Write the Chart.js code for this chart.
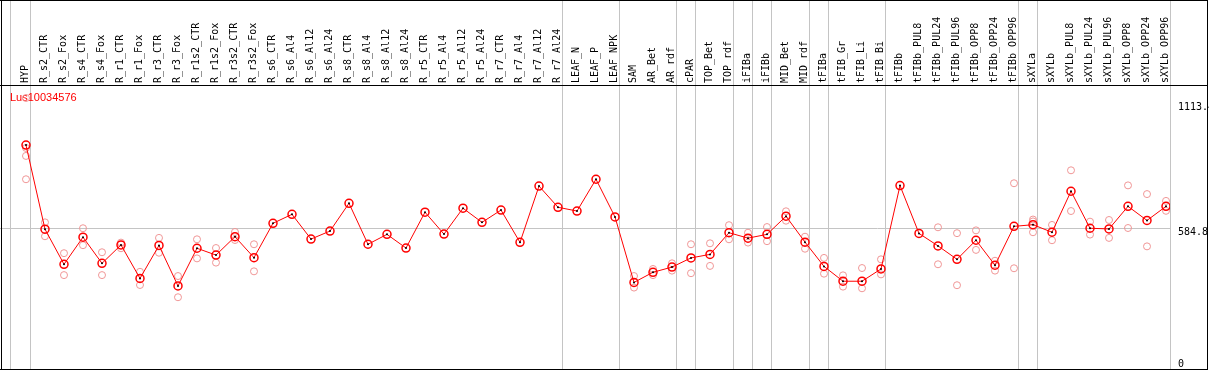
<!DOCTYPE html>
<html>
<head>
<meta charset="utf-8">
<script src="https://cdn.jsdelivr.net/npm/chart.js@4.4.0/dist/chart.umd.min.js"></script>
<style>
  html, body { margin: 0; padding: 0; background: #fff; }
  #wrap { width: 1209px; height: 370px; }
</style>
</head>
<body>
<div id="wrap"><canvas id="exprChart" width="1209" height="370"></canvas></div>
<script>
var geneName = "Lus10034576";

var categories = ["HYP", "R_s2_CTR", "R_s2_Fox", "R_s4_CTR", "R_s4_Fox", "R_r1_CTR", "R_r1_Fox",
  "R_r3_CTR", "R_r3_Fox", "R_r1s2_CTR", "R_r1s2_Fox", "R_r3s2_CTR", "R_r3s2_Fox",
  "R_s6_CTR", "R_s6_Al4", "R_s6_Al12", "R_s6_Al24", "R_s8_CTR", "R_s8_Al4", "R_s8_Al12", "R_s8_Al24",
  "R_r5_CTR", "R_r5_Al4", "R_r5_Al12", "R_r5_Al24", "R_r7_CTR", "R_r7_Al4", "R_r7_Al12", "R_r7_Al24",
  "LEAF_N", "LEAF_P", "LEAF_NPK", "SAM", "AR_Bet", "AR_rdf", "cPAR", "TOP_Bet", "TOP_rdf",
  "iFIBa", "iFIBb", "MID_Bet", "MID_rdf", "tFIBa", "tFIB_Gr", "tFIB_Li", "tFIB_Bi",
  "tFIBb", "tFIBb_PUL8", "tFIBb_PUL24", "tFIBb_PUL96", "tFIBb_OPP8", "tFIBb_OPP24", "tFIBb_OPP96",
  "sXYLa", "sXYLb", "sXYLb_PUL8", "sXYLb_PUL24", "sXYLb_PUL96", "sXYLb_OPP8", "sXYLb_OPP24", "sXYLb_OPP96"];

// number of categories in each sample group (grey separators)
var groupSizes = [1, 28, 3, 3, 1, 2, 1, 1, 2, 1, 3, 7, 1, 7];

var meanValues = [938, 581, 432, 547, 436, 514, 372, 512, 340, 500, 471, 549, 460,
  606, 644, 539, 573, 691, 517, 559, 501, 653, 560, 670, 610, 662, 525, 764, 674,
  658, 793, 633, 355, 398, 420, 459, 474, 566, 543, 559, 636, 526, 423, 360, 360, 412,
  766, 563, 510, 453, 534, 428, 593, 600, 568, 742, 585, 582, 678, 618, 678];

var replicateValues = [[1138, 926, 892, 793], [610, 551], [479, 386], [585, 513], [483, 386],
  [524, 500], [400, 344], [544, 481], [382, 292], [538, 457], [501, 439], [569, 535], [517, 402],
  [], [], [], [], [], [], [], [], [], [], [], [], [], [], [], [], [], [], [],
  [382, 333], [412, 386], [436, 405], [517, 394], [521, 425], [598, 538], [566, 524], [590, 530],
  [657, 617], [549, 498], [459, 392], [385, 337], [416, 330], [453, 389],
  [], [], [589, 432], [564, 343], [576, 493], [447, 405], [776, 415],
  [622, 614, 568], [599, 534], [831, 658], [613, 558], [620, 544], [767, 586], [730, 508], [701, 659]];

var yTickValues = [0, 584.8, 1113.4];
var yMax = 1189;

var meanPoints = meanValues.map(function (v, i) { return { x: i, y: v }; });
var repPoints = [];
replicateValues.forEach(function (list, i) {
  list.forEach(function (v) { repPoints.push({ x: i, y: v }); });
});

var framePlugin = {
  id: 'frame',
  beforeDatasetsDraw: function (chart) {
    var ctx = chart.ctx;
    var xScale = chart.scales.x;
    var bounds = [-0.8];
    var end = -1;
    groupSizes.forEach(function (n) { end += n; bounds.push(end + 0.24); });

    ctx.save();
    ctx.strokeStyle = '#c4c4c4';
    ctx.lineWidth = 1;
    bounds.forEach(function (b) {
      var px = Math.floor(xScale.getPixelForValue(b)) + 0.5;
      ctx.beginPath();
      ctx.moveTo(px, 0);
      ctx.lineTo(px, chart.height);
      ctx.stroke();
    });

    ctx.fillStyle = '#ff0000';
    ctx.font = '11px "Liberation Sans"';
    ctx.textBaseline = 'top';
    ctx.fillText(geneName, 10, 92);
    ctx.restore();
  },
  afterDraw: function (chart) {
    var ctx = chart.ctx;
    ctx.save();
    ctx.strokeStyle = '#000';
    ctx.lineWidth = 1;
    ctx.beginPath();
    ctx.moveTo(0, 0.5); ctx.lineTo(1208, 0.5);
    ctx.moveTo(0, 85.5); ctx.lineTo(1208, 85.5);
    ctx.moveTo(0, 369.5); ctx.lineTo(1208, 369.5);
    ctx.moveTo(1.5, 0); ctx.lineTo(1.5, 370);
    ctx.moveTo(1207.5, 0); ctx.lineTo(1207.5, 370);
    ctx.stroke();
    ctx.restore();
  }
};

var exprChart = new Chart(document.getElementById('exprChart'), {
  type: 'line',
  data: {
    datasets: [
      {
        label: 'replicates',
        data: repPoints,
        showLine: false,
        pointStyle: 'circle',
        pointRadius: 3.5,
        pointBorderWidth: 1,
        pointBorderColor: 'rgb(240,150,150)',
        pointBackgroundColor: 'rgba(0,0,0,0)',
        order: 3
      },
      {
        label: geneName,
        data: meanPoints,
        borderColor: '#ff0000',
        borderWidth: 1,
        pointStyle: 'circle',
        pointRadius: 4,
        pointBorderWidth: 1.5,
        pointBorderColor: '#ff0000',
        pointBackgroundColor: 'rgba(0,0,0,0)',
        tension: 0,
        order: 2
      },
      {
        label: 'centre',
        data: meanPoints,
        showLine: false,
        pointStyle: 'circle',
        pointRadius: 1,
        pointBorderWidth: 0,
        pointBackgroundColor: '#000',
        order: 1
      }
    ]
  },
  options: {
    responsive: false,
    devicePixelRatio: 1,
    animation: false,
    events: [],
    layout: {
      autoPadding: false,
      padding: { left: 0, right: 0, top: 1, bottom: 4 }
    },
    plugins: {
      legend: { display: false },
      tooltip: { enabled: false }
    },
    scales: {
      x: {
        type: 'linear',
        position: 'top',
        min: -1.3684,
        max: 60.2105,
        grid: { display: false },
        border: { display: false },
        afterBuildTicks: function (scale) {
          scale.ticks = categories.map(function (c, i) { return { value: i }; });
        },
        afterFit: function (scale) {
          scale.height = 85;
          scale.paddingLeft = 0;
          scale.paddingRight = 0;
        },
        ticks: {
          autoSkip: false,
          minRotation: 90,
          maxRotation: 90,
          padding: -5,
          labelOffset: 11,
          color: '#000',
          font: { family: 'DejaVu Sans Mono', size: 10 },
          callback: function (value) {
            return categories[value];
          }
        }
      },
      y: {
        type: 'linear',
        position: 'right',
        min: 0,
        max: yMax,
        border: { display: false },
        grid: {
          drawTicks: false,
          lineWidth: 1,
          color: function (ctx) {
            return ctx.tick && ctx.tick.value === 584.8 ? '#c4c4c4' : 'rgba(0,0,0,0)';
          }
        },
        afterBuildTicks: function (scale) {
          scale.ticks = yTickValues.map(function (v) { return { value: v }; });
        },
        afterFit: function (scale) {
          scale.width = 39;
          scale.paddingTop = 0;
          scale.paddingBottom = 0;
        },
        ticks: {
          padding: 8,
          labelOffset: 4,
          color: '#000',
          font: { family: 'DejaVu Sans Mono', size: 10 },
          callback: function (value) {
            return value === 0 ? ['0', ''] : String(value);
          }
        }
      }
    }
  },
  plugins: [framePlugin]
});
</script>
</body>
</html>
